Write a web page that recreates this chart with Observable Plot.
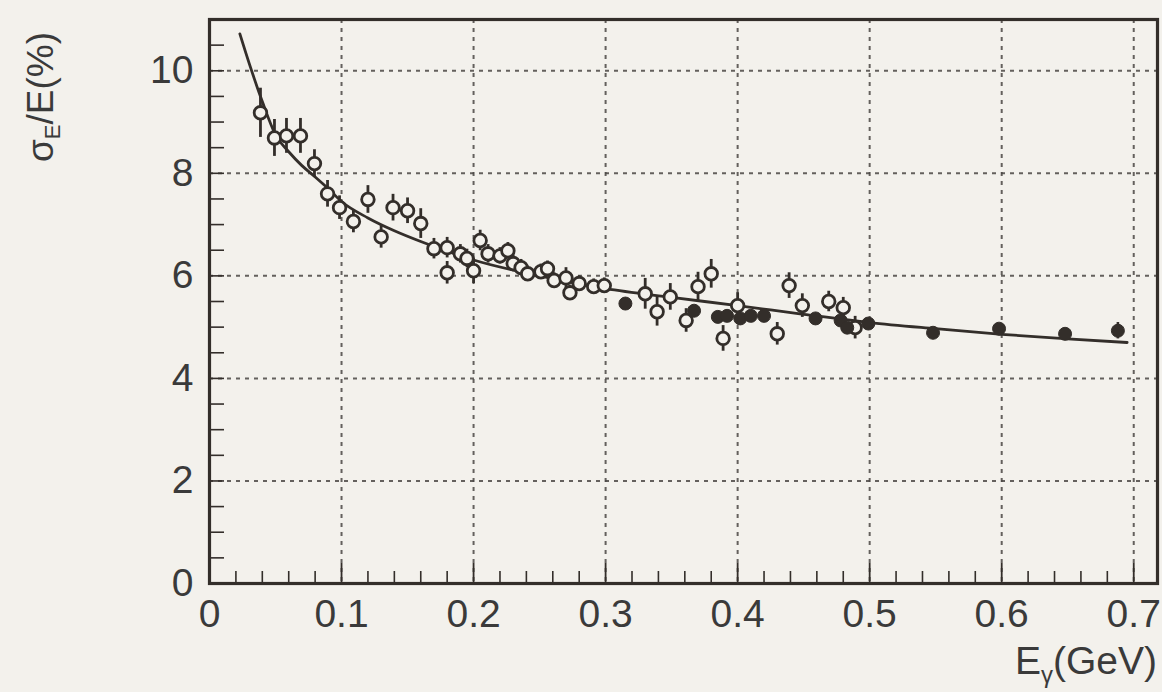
<!DOCTYPE html>
<html>
<head>
<meta charset="utf-8">
<script src="https://cdn.jsdelivr.net/npm/d3@7"></script>
<script src="https://cdn.jsdelivr.net/npm/@observablehq/plot@0.6"></script>
<style>
  html, body { margin: 0; padding: 0; background: #f3f1ec; }
  #chart { width: 1162px; height: 692px; }
</style>
</head>
<body>
<div id="chart"></div>
<script>
// ---- data ----
// open circles with error bars
const openE = [0.0386, 0.0492, 0.0583, 0.0689, 0.0795, 0.0894, 0.0985, 0.109, 0.120, 0.130, 0.139, 0.150, 0.160, 0.170, 0.180, 0.180, 0.190, 0.195, 0.200, 0.205, 0.211, 0.220, 0.226, 0.230, 0.236, 0.241, 0.251, 0.256, 0.261, 0.270, 0.273, 0.280, 0.291, 0.299, 0.330, 0.339, 0.349, 0.361, 0.370, 0.380, 0.389, 0.400, 0.430, 0.439, 0.449, 0.469, 0.480, 0.489];
const openSigma = [9.18, 8.69, 8.73, 8.73, 8.19, 7.60, 7.33, 7.06, 7.49, 6.76, 7.33, 7.27, 7.02, 6.53, 6.55, 6.06, 6.43, 6.34, 6.10, 6.69, 6.43, 6.39, 6.49, 6.24, 6.16, 6.04, 6.08, 6.14, 5.91, 5.96, 5.67, 5.85, 5.79, 5.81, 5.65, 5.30, 5.59, 5.13, 5.79, 6.04, 4.78, 5.42, 4.87, 5.81, 5.42, 5.50, 5.38, 4.99];
const openErr = [0.48, 0.36, 0.34, 0.34, 0.27, 0.26, 0.23, 0.22, 0.27, 0.22, 0.26, 0.25, 0.29, 0.20, 0.20, 0.22, 0.18, 0.18, 0.25, 0.20, 0.18, 0.16, 0.16, 0.16, 0.16, 0.15, 0.15, 0.15, 0.15, 0.20, 0.15, 0.15, 0.15, 0.15, 0.30, 0.28, 0.26, 0.23, 0.28, 0.28, 0.25, 0.25, 0.22, 0.25, 0.23, 0.20, 0.20, 0.22];
// filled points
const filledE = [0.315, 0.367, 0.385, 0.392, 0.402, 0.410, 0.420, 0.459, 0.478, 0.483, 0.499, 0.548, 0.598, 0.648, 0.688];
const filledSigma = [5.46, 5.32, 5.20, 5.22, 5.17, 5.22, 5.22, 5.17, 5.13, 4.99, 5.07, 4.89, 4.97, 4.87, 4.93];
const filledErr = [0.10, 0.10, 0.10, 0.10, 0.10, 0.10, 0.10, 0.10, 0.10, 0.10, 0.10, 0.10, 0.10, 0.10, 0.16];
// fitted curve
const curveE = [0.023, 0.03, 0.04, 0.05, 0.06, 0.07, 0.08, 0.09, 0.10, 0.12, 0.14, 0.16, 0.18, 0.20, 0.25, 0.30, 0.35, 0.40, 0.45, 0.50, 0.55, 0.60, 0.65, 0.695];
const curveSigma = [10.72, 10.15, 9.40, 8.75, 8.42, 8.15, 7.93, 7.70, 7.45, 7.13, 6.88, 6.67, 6.48, 6.31, 6.00, 5.75, 5.58, 5.42, 5.25, 5.09, 4.97, 4.86, 4.77, 4.70];
// axes
const xTickLabels = [0, 0.1, 0.2, 0.3, 0.4, 0.5, 0.6, 0.7];
const yTickLabels = [0, 2, 4, 6, 8, 10];
const xGrid = [0.1, 0.2, 0.3, 0.4, 0.5, 0.6, 0.7];
const yGrid = [2, 4, 6, 8, 10];
const xMinor = d3.range(1, 36).map(i => +(i * 0.02).toFixed(2)).filter(v => Math.abs(v * 10 - Math.round(v * 10)) > 1e-6);
const xMajor = [0.1, 0.2, 0.3, 0.4, 0.5, 0.6, 0.7];
const yMinor = d3.range(1, 22).map(i => i * 0.5);

// tables built from the arrays
const openPts = openE.map((e, i) => ({e, s: openSigma[i], err: openErr[i]}));
const filledPts = filledE.map((e, i) => ({e, s: filledSigma[i], err: filledErr[i]}));
const curvePts = curveE.map((e, i) => ({e, s: curveSigma[i]}));

// ---- layout / style ----
const W = 1162, H = 692;
const mL = 209, mR = 5, mT = 19, mB = 109;
const plotW = W - mL - mR, plotH = H - mT - mB;
const ink = "#332e2a";
const bg = "#f3f1ec";
const textInk = "#3a3a3a";
const gridStyle = {stroke: "#4a4744", strokeWidth: 2, strokeDasharray: "4,5", strokeOpacity: 0.85};

const chart = Plot.plot({
  width: W, height: H,
  marginLeft: mL, marginRight: mR, marginTop: mT, marginBottom: mB,
  style: {background: bg, fontFamily: "'Liberation Sans', Arial, sans-serif", fontSize: "39px", color: textInk},
  x: {domain: [0, 0.718], label: null},
  y: {domain: [0, 11], label: null},
  marks: [
    Plot.ruleX(xGrid, {x: d => d, ...gridStyle}),
    Plot.ruleY(yGrid, {y: d => d, ...gridStyle}),
    Plot.ruleX(xMinor, {x: d => d, stroke: ink, strokeWidth: 1.6, insetTop: plotH - 12}),
    Plot.ruleX(xMajor, {x: d => d, stroke: ink, strokeWidth: 1.8, insetTop: plotH - 20}),
    Plot.ruleY(yMinor, {y: d => d, stroke: ink, strokeWidth: 1.6, insetRight: plotW - 15}),
    Plot.axisX(xTickLabels, {tickSize: 0, tickPadding: 16, label: null, tickFormat: d => String(d), fill: textInk}),
    Plot.axisY(yTickLabels, {tickSize: 0, tickPadding: 16, label: null, tickFormat: d => String(d), fill: textInk}),
    Plot.frame({stroke: ink, strokeWidth: 3.2}),
    Plot.line(curvePts, {x: "e", y: "s", curve: "monotone-x", stroke: ink, strokeWidth: 2.8}),
    Plot.ruleX(openPts, {x: "e", y1: d => d.s - d.err, y2: d => d.s + d.err, stroke: ink, strokeWidth: 2.8}),
    Plot.ruleX(filledPts, {x: "e", y1: d => d.s - d.err, y2: d => d.s + d.err, stroke: ink, strokeWidth: 2.6}),
    Plot.dot(openPts, {x: "e", y: "s", r: 6.3, fill: bg, stroke: ink, strokeWidth: 2.8}),
    Plot.dot(filledPts, {x: "e", y: "s", r: 6.5, fill: ink, stroke: ink, strokeWidth: 1})
  ]
});
document.getElementById("chart").appendChild(chart);

// axis titles with subscripts (real text)
const svg = d3.select(chart);
const yt = svg.append("text")
  .attr("transform", "translate(53,162) rotate(-90)")
  .attr("text-anchor", "start")
  .attr("font-size", 37)
  .attr("fill", textInk);
yt.append("tspan").text("σ");
yt.append("tspan").attr("font-size", 22).attr("dy", 7).text("E");
yt.append("tspan").attr("dy", -7).text("/E(%)");

const xt = svg.append("text")
  .attr("x", 1157).attr("y", 674)
  .attr("text-anchor", "end")
  .attr("font-size", 39)
  .attr("fill", textInk);
xt.append("tspan").text("E");
xt.append("tspan").attr("font-size", 24).attr("dy", 9).text("γ");
xt.append("tspan").attr("dy", -9).text("(GeV)");
</script>
</body>
</html>
